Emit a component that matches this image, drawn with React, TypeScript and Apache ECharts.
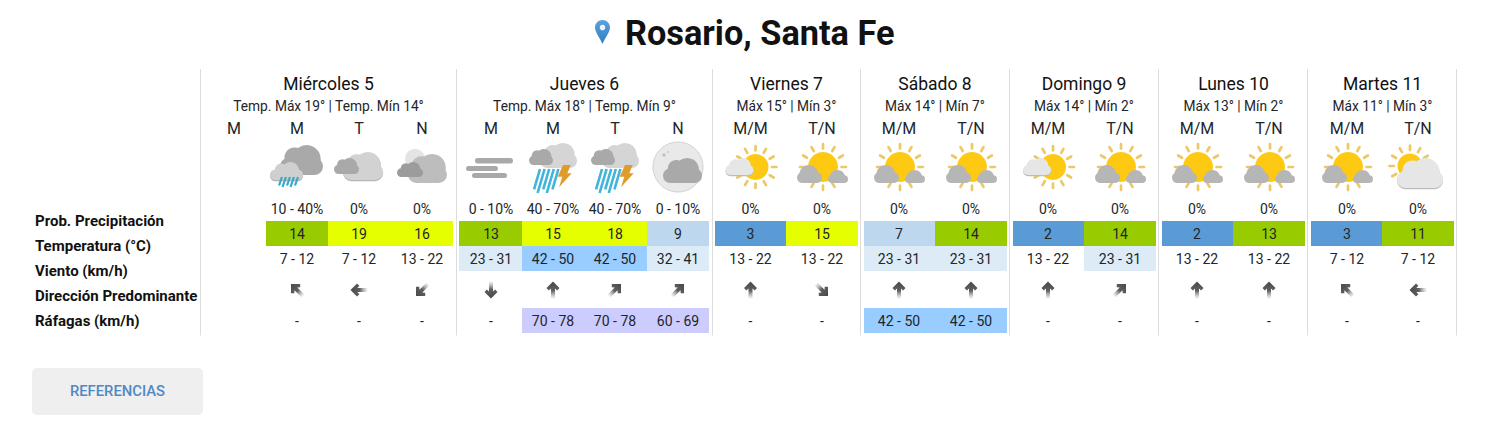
import React, { useEffect, useRef } from "react";
import * as echarts from "echarts";

// ---------- data ----------
const place = "Rosario, Santa Fe";
const dayNames = ["Miércoles 5", "Jueves 6", "Viernes 7", "Sábado 8", "Domingo 9", "Lunes 10", "Martes 11"];
const daySummaries = [
  "Temp. Máx 19° | Temp. Mín 14°",
  "Temp. Máx 18° | Temp. Mín 9°",
  "Máx 15° | Mín 3°",
  "Máx 14° | Mín 7°",
  "Máx 14° | Mín 2°",
  "Máx 13° | Mín 2°",
  "Máx 11° | Mín 3°",
];
const periodNames = ["M", "M", "T", "N", "M", "M", "T", "N", "M/M", "T/N", "M/M", "T/N", "M/M", "T/N", "M/M", "T/N", "M/M", "T/N"];
const rowLabels = ["Prob. Precipitación", "Temperatura (°C)", "Viento (km/h)", "Dirección Predominante", "Ráfagas (km/h)"];
const precipitation = [null, "10 - 40%", "0%", "0%", "0 - 10%", "40 - 70%", "40 - 70%", "0 - 10%", "0%", "0%", "0%", "0%", "0%", "0%", "0%", "0%", "0%", "0%"];
const temperatures = [null, 14, 19, 16, 13, 15, 18, 9, 3, 15, 7, 14, 2, 14, 2, 13, 3, 11];
const winds = [null, "7 - 12", "7 - 12", "13 - 22", "23 - 31", "42 - 50", "42 - 50", "32 - 41", "13 - 22", "13 - 22", "23 - 31", "23 - 31", "13 - 22", "23 - 31", "13 - 22", "13 - 22", "7 - 12", "7 - 12"];
// compass bearing the arrow points to, degrees clockwise from north
const windBearings = [null, 315, 270, 225, 180, 0, 45, 45, 0, 135, 0, 0, 0, 45, 0, 0, 315, 270];
const gusts = [null, "-", "-", "-", "-", "70 - 78", "70 - 78", "60 - 69", "-", "-", "42 - 50", "42 - 50", "-", "-", "-", "-", "-", "-"];
const skies = [null, "rain", "cloudy", "night", "fog", "storm", "storm", "moon", "sunCloud", "sunLow", "sunLow", "sunLow", "sunCloud", "sunLow", "sunLow", "sunLow", "sunLow", "sunBehind"];
const buttonLabel = "REFERENCIAS";

// ---------- layout ----------
const separatorX = [200.5, 456.5, 712.5, 860.5, 1009.5, 1158.5, 1307.5, 1456.5];
const dayCenterX = [328.5, 584.5, 786.5, 935, 1084, 1233.5, 1382.5];
const periodX = [234, 297, 359, 422, 491, 553, 615, 678, 750.5, 822, 899, 971, 1048, 1120, 1197, 1269, 1347, 1418];
const cellLeft = [0, 266, 328, 391, 459, 522, 584, 647, 715, 786, 864, 935, 1013, 1084, 1162, 1233, 1311, 1382];
const cellRight = [0, 328, 391, 453, 522, 584, 647, 709, 786, 858, 935, 1007, 1084, 1156, 1233, 1305, 1382, 1454];
const rowLabelY = [221, 246, 271, 296, 321];
const Y = { top: 69, bottom: 335.5, day: 84, summary: 106, period: 128, icon: 168, prob: 208.5, temp: 233.5, wind: 258.5, dir: 290, gust: 320.5 };
const CELL_H = 25;

// ---------- styles ----------
const FONT = "Roboto";
const INK = "#212529";
const tempColor = (t: number) => (t <= 5 ? "#5b9bd5" : t <= 10 ? "#bdd7ee" : t <= 14 ? "#99cc00" : "#e5ff00");
const windColor = (w: string) => {
  const lo = parseInt(w, 10);
  return lo >= 42 ? "#99ccff" : lo >= 23 ? "#ddebf7" : "transparent";
};
const gustColor = (g: string) => {
  const lo = parseInt(g, 10);
  return isNaN(lo) ? "transparent" : lo >= 60 ? "#ccccff" : "#99ccff";
};

const present = (arr: any[]) => arr.map((v, i) => (v === null ? -1 : i)).filter((i) => i >= 0);

function text(t: string, x: number, y: number, size: number, opts: any = {}) {
  return {
    type: "text",
    style: {
      text: t,
      x,
      y,
      align: opts.align || "center",
      verticalAlign: "middle",
      fontFamily: FONT,
      fontSize: size,
      fontWeight: opts.weight || 400,
      fill: opts.fill || INK,
    },
  };
}

// ---------- icons (drawn relative to the icon centre) ----------
function cloud(x0: number, x1: number, y0: number, y1: number, fill: string, shadow?: string): any[] {
  const w = x1 - x0;
  const H = y1 - y0;
  const h = H * 0.58;
  const parts = (dy: number, c: string) => [
    { type: "rect", shape: { x: x0, y: y1 - h + dy, width: w, height: h, r: h / 2 }, style: { fill: c } },
    { type: "circle", shape: { cx: x0 + w * 0.34, cy: y1 - H * 0.58 + dy, r: H * 0.34 }, style: { fill: c } },
    { type: "circle", shape: { cx: x0 + w * 0.62, cy: y0 + H * 0.47 + dy, r: H * 0.47 }, style: { fill: c } },
  ];
  return [...(shadow ? parts(1.2, shadow) : []), ...parts(0, fill)];
}

// low single-humped cloud: a pill with one wide dome
function mound(x0: number, x1: number, y0: number, y1: number, fill: string): any[] {
  const w = x1 - x0;
  const H = y1 - y0;
  const h = H * 0.6;
  return [
    { type: "rect", shape: { x: x0, y: y1 - h, width: w, height: h, r: h / 2 }, style: { fill } },
    { type: "ellipse", shape: { cx: x0 + w * 0.47, cy: y0 + H * 0.5, rx: w * 0.37, ry: H * 0.5 }, style: { fill } },
  ];
}

function sun(cx: number, cy: number, r: number): any[] {
  const out: any[] = [];
  for (let a = 0; a < 360; a += 30) {
    const s = Math.sin((a * Math.PI) / 180);
    const c = Math.cos((a * Math.PI) / 180);
    out.push({
      type: "line",
      shape: { x1: cx + s * (r + 3.5), y1: cy - c * (r + 3.5), x2: cx + s * (r + 8), y2: cy - c * (r + 8) },
      style: { stroke: "#ecc868", lineWidth: 2.7, lineCap: "round" },
    });
  }
  out.push({ type: "circle", shape: { cx, cy, r }, style: { fill: "#fdc913" } });
  return out;
}

function streaks(n: number, x: number, step: number, y0: number, y1: number, dx: number, width: number, color: string): any[] {
  const out: any[] = [];
  for (let i = 0; i < n; i++) {
    const trim = i % 2 ? 0 : (y1 - y0) * 0.15;
    out.push({
      type: "line",
      shape: { x1: x + i * step, y1: y0, x2: x + i * step + dx * (1 - trim / (y1 - y0)), y2: y1 - trim },
      style: { stroke: color, lineWidth: width },
    });
  }
  return out;
}

const iconParts: Record<string, () => any[]> = {
  rain: () => [
    ...cloud(-17, 26, -23, 7, "#a9a9a9"),
    ...cloud(-27, 6, -6, 12, "#cfcfcf", "#b3b3b3"),
    ...streaks(5, -15, 4, 9, 19, -3.5, 2.2, "#37a8c9"),
  ],
  cloudy: () => [...cloud(-16, 24, -16, 12, "#d2d2d2", "#b5b5b5"), ...cloud(-25, 0, -10, 6, "#a9a9a9")],
  night: () => [
    { type: "circle", shape: { cx: -7, cy: -9, r: 10 }, style: { fill: "#e4e4e4" } },
    ...cloud(-14, 25, -14, 15, "#bdbdbd"),
    ...cloud(-25, 1, -6, 9, "#9c9c9c"),
  ],
  fog: () => [
    { type: "rect", shape: { x: -16, y: -10, width: 38, height: 5.5, r: 2.7 }, style: { fill: "#a9a9a9" } },
    { type: "rect", shape: { x: -25, y: -2, width: 32, height: 5, r: 2.5 }, style: { fill: "#a9a9a9" } },
    { type: "rect", shape: { x: -19, y: 5, width: 35, height: 5, r: 2.5 }, style: { fill: "#a9a9a9" } },
  ],
  storm: () => [
    ...cloud(-13, 24, -25, 0, "#d5d5d5"),
    ...cloud(-24, 0, -19, -3, "#a9a9a9"),
    ...streaks(5, -13, 4.6, 1, 25, -7, 2.6, "#40b4da"),
    {
      type: "polygon",
      shape: { points: [[10, -3], [17.7, -3], [14.3, 5.3], [18.7, 5.3], [6, 19.3], [9.3, 8.7], [4.7, 8.7]] },
      style: { fill: "#e09b2d" },
    },
  ],
  moon: () => [
    { type: "circle", shape: { cx: 0, cy: -1, r: 25 }, style: { fill: "#e9e9e9", stroke: "#d2d2d2", lineWidth: 1 } },
    { type: "circle", shape: { cx: -14, cy: -13, r: 1.6 }, style: { fill: "#bdbdbd" } },
    { type: "circle", shape: { cx: -10, cy: -16, r: 1 }, style: { fill: "#c8c8c8" } },
    ...cloud(-15, 24, -10, 15, "#a9a9a9"),
  ],
  sunCloud: () => [...sun(5, -1, 13), ...cloud(-25, 3, -10, 7, "#e6e6e6", "#bcbcbc")],
  sunLow: () => [...sun(1, -1, 15), ...mound(-25, 0, -3, 15, "#b6b6b6"), ...mound(6, 26, 2, 15, "#b6b6b6")],
  sunBehind: () => [...sun(-8, -2, 12.5), ...cloud(-21, 25, -10, 20, "#e6e6e6", "#bcbcbc")],
};

function arrow(bearing: number) {
  return {
    type: "polygon",
    rotation: (-bearing * Math.PI) / 180,
    shape: {
      points: [[0, -8.5], [6.5, -2], [4.2, 0.4], [2, -1.6], [2, 8.5], [-2, 8.5], [-2, -1.6], [-4.2, 0.4], [-6.5, -2]],
    },
    style: {
      fill: new echarts.graphic.LinearGradient(0, 0, 0, 1, [
        { offset: 0, color: "#484848" },
        { offset: 0.55, color: "#606060" },
        { offset: 1, color: "rgba(170,170,170,0.15)" },
      ]),
    },
  };
}

// ---------- series helpers ----------
function layer(name: string, items: number[][], draw: (item: number[], api: any) => any) {
  return {
    type: "custom",
    name,
    coordinateSystem: "cartesian2d",
    silent: true,
    clip: false,
    encode: { x: 0, y: 1 },
    data: items,
    renderItem: (params: any, api: any) => draw(items[params.dataIndex], api),
  };
}

function textRow(name: string, values: any[], y: number, size: number) {
  const idx = present(values);
  return layer(name, idx.map((i) => [periodX[i], y, i]), (d, api) => {
    const [x, py] = api.coord([d[0], d[1]]);
    return text(String(values[d[2]]), x, py, size);
  });
}

function cellRow(name: string, values: any[], y: number, color: (v: any) => string) {
  const idx = present(values);
  return layer(name, idx.map((i) => [periodX[i], y, i]), (d, api) => {
    const i = d[2];
    const [x0, y0] = api.coord([cellLeft[i], y - CELL_H / 2]);
    const [x1, y1] = api.coord([cellRight[i], y + CELL_H / 2]);
    const [cx, cy] = api.coord([d[0], y]);
    return {
      type: "group",
      children: [
        { type: "rect", shape: { x: x0, y: y0, width: x1 - x0, height: y1 - y0 }, style: { fill: color(values[i]) } },
        text(String(values[i]), cx, cy, 14),
      ],
    };
  });
}

const PIN =
  "M7.5 0C3.3 0 0 3.3 0 7.5 0 12.3 4.6 17 7.5 24 10.4 17 15 12.3 15 7.5 15 3.3 11.7 0 7.5 0Z";

export default function App() {
  const ref = useRef<HTMLDivElement>(null);
  useEffect(() => {
    document.body.style.margin = "0";
    const chart = echarts.init(ref.current!, undefined, { renderer: "svg" });
    chart.setOption({
      animation: false,
      backgroundColor: "#ffffff",
      title: {
        text: place,
        left: 625,
        top: 16,
        padding: 0,
        textStyle: { fontFamily: FONT, fontSize: 34.3, fontWeight: 700, color: "#111111" },
      },
      grid: { left: 0, right: 0, top: 0, bottom: 0 },
      xAxis: { type: "value", min: 0, max: 1497, show: false },
      yAxis: { type: "value", min: 0, max: 447, inverse: true, show: false },
      graphic: [
        {
          type: "rect",
          shape: { x: 32, y: 368, width: 171, height: 47, r: 5 },
          style: { fill: "#efefef" },
        },
        {
          type: "text",
          style: {
            text: buttonLabel,
            x: 117.5,
            y: 391,
            align: "center",
            verticalAlign: "middle",
            fontFamily: FONT,
            fontSize: 14.8,
            fontWeight: 500,
            fill: "#4f89c4",
          },
        },
      ],
      series: [
        layer("pin", [[595, 20]], (d, api) => {
          const [x, y] = api.coord([d[0], d[1]]);
          return {
            type: "group",
            children: [
              {
                type: "path",
                shape: { pathData: PIN, layout: "cover", x, y, width: 15, height: 24 },
                style: {
                  fill: new echarts.graphic.LinearGradient(0, 0, 0, 1, [
                    { offset: 0, color: "#58a3e0" },
                    { offset: 1, color: "#2f7cc0" },
                  ]),
                },
              },
              { type: "circle", shape: { cx: x + 7.5, cy: y + 7.5, r: 2.8 }, style: { fill: "#eaf3fb" } },
            ],
          };
        }),
        layer("separators", separatorX.map((x) => [x, Y.top]), (d, api) => {
          const [x, y0] = api.coord([d[0], Y.top]);
          const [, y1] = api.coord([d[0], Y.bottom]);
          return { type: "line", shape: { x1: x, y1: y0, x2: x, y2: y1 }, style: { stroke: "#dddddd", lineWidth: 1 } };
        }),
        layer("day names", dayCenterX.map((x, i) => [x, Y.day, i]), (d, api) => {
          const [x, y] = api.coord([d[0], d[1]]);
          return text(dayNames[d[2]], x, y, 17.5, { fill: "#111111" });
        }),
        layer("day summaries", dayCenterX.map((x, i) => [x, Y.summary, i]), (d, api) => {
          const [x, y] = api.coord([d[0], d[1]]);
          return text(daySummaries[d[2]], x, y, 13.75);
        }),
        textRow("periods", periodNames, Y.period, 16),
        layer("row labels", rowLabelY.map((y, i) => [35, y, i]), (d, api) => {
          const [x, y] = api.coord([d[0], d[1]]);
          return text(rowLabels[d[2]], x, y, 15, { align: "left", weight: 700, fill: "#111111" });
        }),
        layer("sky", present(skies).map((i) => [periodX[i], Y.icon, i]), (d, api) => {
          const [x, y] = api.coord([d[0], d[1]]);
          return { type: "group", x, y, children: iconParts[skies[d[2]] as string]() };
        }),
        textRow("precipitation", precipitation, Y.prob, 14),
        cellRow("temperature", temperatures, Y.temp, tempColor),
        cellRow("wind", winds, Y.wind, windColor),
        layer("direction", present(windBearings).map((i) => [periodX[i], Y.dir, i]), (d, api) => {
          const [x, y] = api.coord([d[0], d[1]]);
          return { type: "group", x, y, children: [arrow(windBearings[d[2]] as number)] };
        }),
        cellRow("gusts", gusts, Y.gust, gustColor),
      ],
    });
    return () => chart.dispose();
  }, []);
  return <div ref={ref} style={{ position: "fixed", left: 0, top: 0, width: 1497, height: 447 }} />;
}
